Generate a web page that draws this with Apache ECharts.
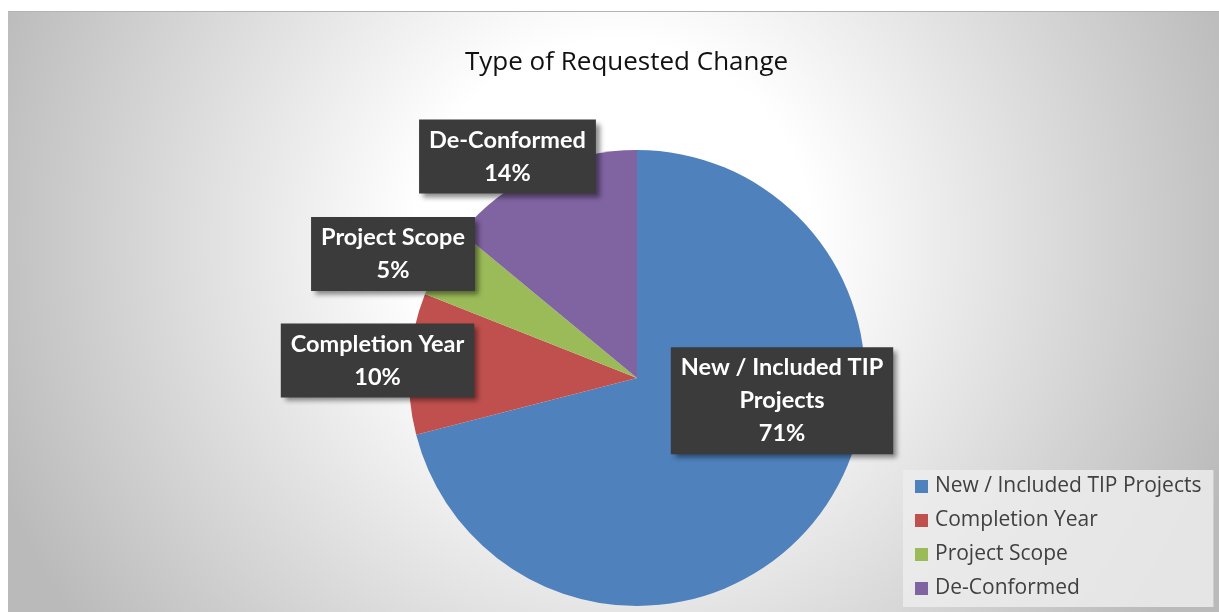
<!DOCTYPE html>
<html>
<head>
<meta charset="utf-8">
<script src="https://cdn.jsdelivr.net/npm/echarts@6/dist/echarts.min.js"></script>
<style>
html,body{margin:0;padding:0;background:#fff;width:1219px;height:612px;overflow:hidden;}
#c{position:absolute;left:8px;top:11px;width:1211px;height:601px;border-top:1px solid #b4b4b4;box-sizing:border-box;}
</style>
</head>
<body>
<div id="c"></div>
<script>
const categories = ['New / Included TIP Projects', 'Completion Year', 'Project Scope', 'De-Conformed'];
const labelNames = ['New / Included TIP\nProjects', 'Completion Year', 'Project Scope', 'De-Conformed'];
const values = [71, 10, 5, 14];
const colors = ['#4f81bd', '#c0504d', '#9bbb59', '#8064a2'];

const chart = echarts.init(document.getElementById('c'), null, {renderer: 'canvas'});
const cx = 629, cy = 366, R = 228;
// label box centre offsets from pie centre (in radius units)
const labelOffsets = [[0.636, 0.10], [-1.138, -0.077], [-1.07, -0.544], [-0.568, -0.971]];

chart.setOption({
  backgroundColor: {
    type: 'radial', x: 0.5, y: 0.38, r: 1.1,
    colorStops: [{offset: 0, color: '#ffffff'}, {offset: 0.3, color: '#ffffff'}, {offset: 1, color: '#bababa'}]
  },
  title: {
    text: 'Type of Requested Change',
    left: 452, top: 33,
    textStyle: {fontFamily: 'Open Sans', fontWeight: 'normal', fontSize: 26, color: '#111'}
  },
  legend: {
    orient: 'vertical',
    left: 895, top: 458,
    backgroundColor: 'rgba(236,236,236,0.85)',
    padding: [6, 12, 8, 12],
    itemWidth: 13, itemHeight: 13, itemGap: 13,
    icon: 'rect',
    textStyle: {fontFamily: 'Open Sans', fontSize: 21, color: '#404040', lineHeight: 21, padding: [0, 0, 0, 2]},
    data: categories
  },
  series: [{
    type: 'pie',
    center: [cx, cy],
    radius: R,
    startAngle: 90,
    clockwise: true,
    animation: false,
    data: categories.map((c, i) => ({name: c, value: values[i], itemStyle: {color: colors[i]}})),
    label: {
      show: true,
      position: 'inside',
      formatter: p => labelNames[p.dataIndex] + '\n' + Math.round(p.percent) + '%',
      fontFamily: 'Lato',
      fontWeight: 'bold',
      fontSize: 23.5,
      lineHeight: 33,
      color: '#ffffff',
      backgroundColor: '#3b3b3b',
      padding: [4, 10, 4, 10],
      shadowColor: 'rgba(0,0,0,0.45)',
      shadowBlur: 5,
      shadowOffsetX: 4,
      shadowOffsetY: 4,
      align: 'center'
    },
    labelLine: {show: false},
    labelLayout: p => ({
      x: cx + labelOffsets[p.dataIndex][0] * R,
      y: cy + labelOffsets[p.dataIndex][1] * R,
      align: 'center',
      verticalAlign: 'middle',
      hideOverlap: false
    })
  }]
});
</script>
</body>
</html>
